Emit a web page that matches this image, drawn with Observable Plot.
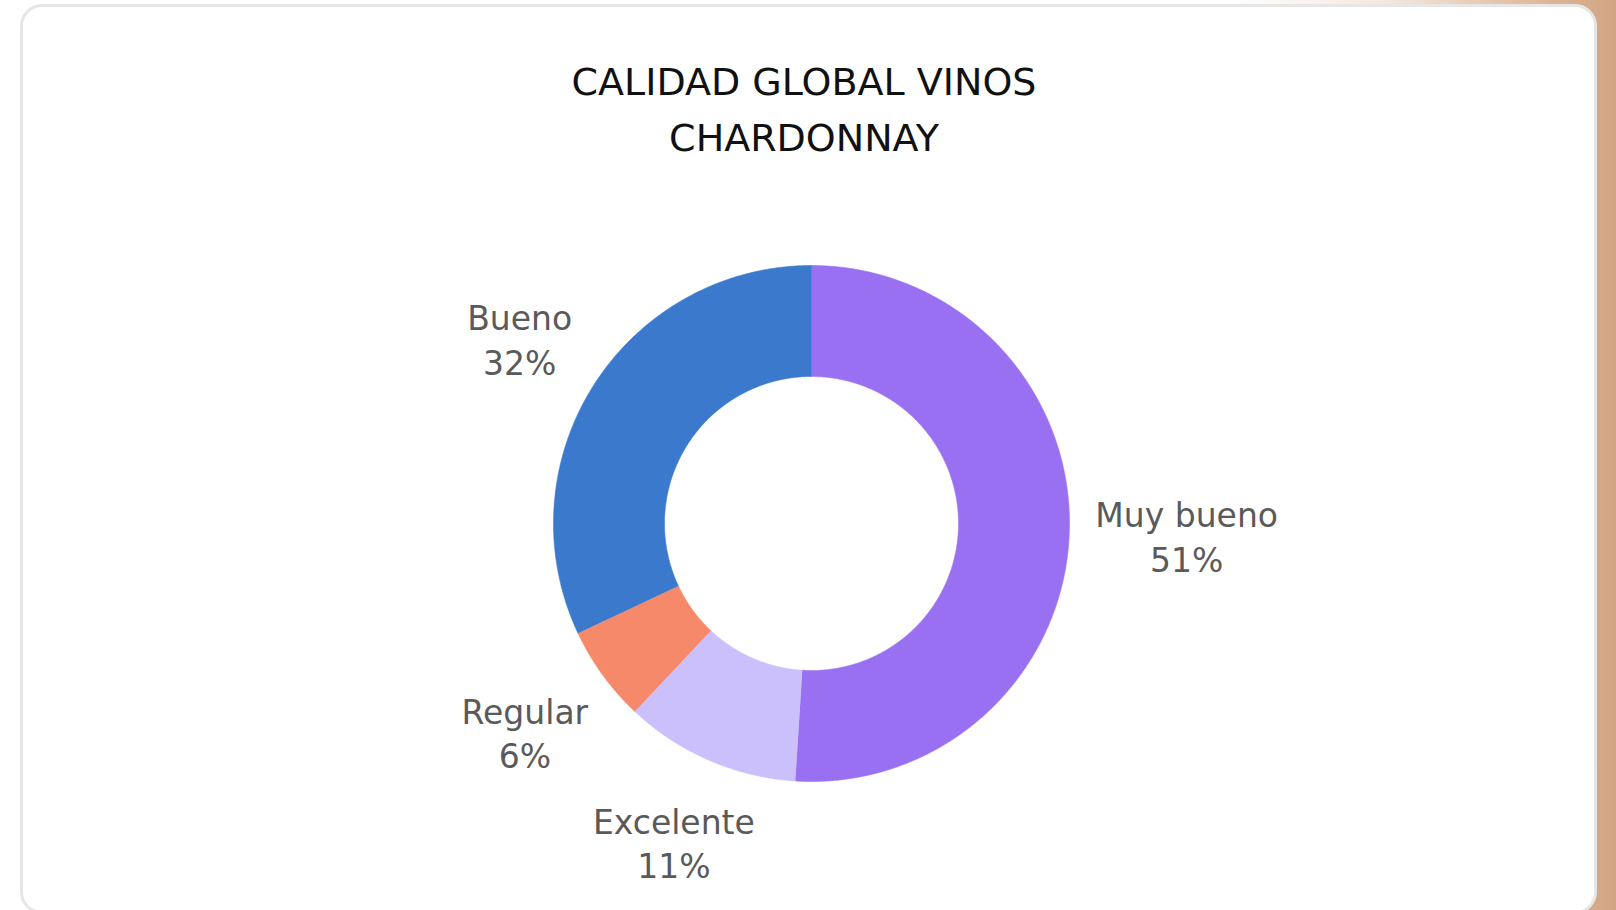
<!DOCTYPE html>
<html>
<head>
<meta charset="utf-8">
<script src="https://cdn.jsdelivr.net/npm/d3@7"></script>
<script src="https://cdn.jsdelivr.net/npm/@observablehq/plot@0.6"></script>
<style>
  html, body { margin: 0; padding: 0; }
  body {
    width: 1616px; height: 910px; overflow: hidden; position: relative;
    background: linear-gradient(to right, #ffffff 0%, #ffffff 76%, #f4e7dc 86%, #dcb597 96%, #d2a482 100%);
  }
  #card {
    position: absolute; left: 20px; top: 4px; width: 1577px; height: 910px;
    box-sizing: border-box; background: #ffffff;
    border: 3px solid #e6e6e6; border-radius: 22px;
  }
  #title {
    position: absolute; left: 0; top: 54px; width: 1608px; text-align: center;
    font-family: "DejaVu Sans", sans-serif; font-size: 38px; line-height: 56px;
    color: #111111; font-weight: normal;
  }
  #chart { position: absolute; left: 0; top: 180px; }
</style>
</head>
<body>
<div id="card"></div>
<div id="title">CALIDAD GLOBAL VINOS<br>CHARDONNAY</div>
<div id="chart"></div>
<script>
// ---- data ----
const categories = ["Muy bueno", "Excelente", "Regular", "Bueno"];
const values = [51, 11, 6, 32];
const colors = ["#9a70f2", "#ccc0fc", "#f7896b", "#3b79cc"];

// ---- layout ----
const W = 1616, H = 730;
const cx = 811, cy = 343;     // donut centre in SVG pixels
const R = 258;                // outer radius in px (1 data unit)
const innerRatio = 147 / 258;
const fontFamily = "DejaVu Sans";
const fontSize = 33;
const lineHeight = 1.34;
const gap = 25;

const rows = categories.map((name, i) => ({name, value: values[i]}));
const arcs = d3.pie().sort(null).value(d => d.value).startAngle(0).endAngle(2 * Math.PI)(rows);

// polygon points for each slice (unit coordinates, y up)
const pts = [];
const step = Math.PI / 720;
for (const a of arcs) {
  const n = Math.max(2, Math.ceil((a.endAngle - a.startAngle) / step));
  for (let k = 0; k <= n; k++) {
    const t = a.startAngle + (a.endAngle - a.startAngle) * k / n;
    pts.push({name: a.data.name, x: Math.sin(t), y: Math.cos(t)});
  }
  for (let k = n; k >= 0; k--) {
    const t = a.startAngle + (a.endAngle - a.startAngle) * k / n;
    pts.push({name: a.data.name, x: innerRatio * Math.sin(t), y: innerRatio * Math.cos(t)});
  }
}

// label positions: outside end, along mid-angle (visual box: cap top of line 1 to baseline of line 2)
const ctx = document.createElement("canvas").getContext("2d");
ctx.font = `${fontSize}px "${fontFamily}"`;
const labels = arcs.map(a => {
  const mid = (a.startAngle + a.endAngle) / 2;
  const dx = Math.sin(mid), dy = Math.cos(mid);
  const l1 = a.data.name, l2 = `${a.data.value}%`;
  const w = Math.max(ctx.measureText(l1).width, ctx.measureText(l2).width);
  const h = fontSize * lineHeight + fontSize * 0.73;
  const dist = R + gap + Math.abs(dx) * w / 2 + Math.abs(dy) * h / 2;
  return {name: l1, text: `${l1}\n${l2}`, x: dx * dist / R, y: dy * dist / R};
});

const chart = Plot.plot({
  width: W, height: H,
  marginTop: 0, marginRight: 0, marginBottom: 0, marginLeft: 0,
  x: {domain: [-cx / R, (W - cx) / R], axis: null},
  y: {domain: [-(H - cy) / R, cy / R], axis: null},
  color: {domain: categories, range: colors},
  style: {background: "transparent", overflow: "visible", maxWidth: "none"},
  marks: [
    Plot.line(pts, {x: "x", y: "y", z: "name", fill: "name", stroke: "name", strokeWidth: 0.6, curve: "linear"}),
    Plot.text(labels, {
      x: "x", y: "y", text: "text",
      fill: "#5a5a5a", fontSize, fontFamily, lineHeight,
      textAnchor: "middle", lineAnchor: "middle"
    })
  ]
});
document.getElementById("chart").appendChild(chart);
</script>
</body>
</html>
